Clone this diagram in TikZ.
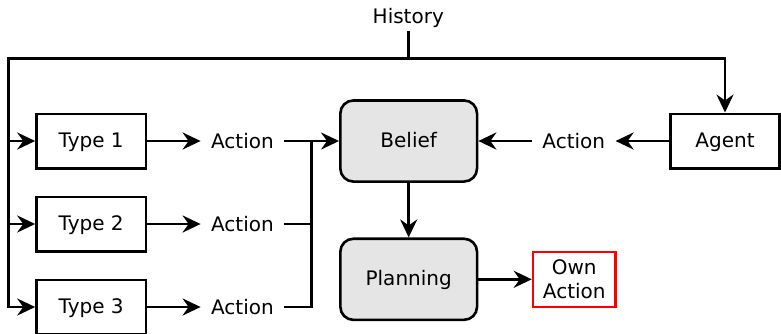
\documentclass[tikz,border=0pt]{standalone}
\usepackage{fontspec}
\setmainfont{DejaVu Sans}
\usetikzlibrary{positioning,arrows.meta}

\begin{document}
\begin{tikzpicture}[x=0.5pt, y=-0.5pt, line width=1.3pt,
    >={Stealth[length=9pt, width=8.5pt, inset=3pt]},
    typebox/.style={draw, minimum width=54.7pt, minimum height=27.2pt, text height=7.5pt, text depth=1.5pt},
    roundbox/.style={draw, fill=gray!20, rounded corners=6.5pt, minimum width=68.35pt, minimum height=40.55pt, text height=7.5pt, text depth=1.5pt},
    act/.style={inner xsep=4.6pt}]
    \useasboundingbox (0,0) rectangle (781,333);

    \node [anchor=base, inner ysep=1pt] (hist) at (408.3,23.3) {History};
    \coordinate (split) at (408.3,58.3);
    \coordinate (corner) at (8.3,58.3);

    \node [typebox] (t1) at (91.2,141) {Type 1};
    \node [typebox, below=13pt of t1] (t2) {Type 2};
    \node [typebox, below=13pt of t2] (t3) {Type 3};
    \node [act, right=26.7pt of t1] (a1) {Action};
    \node [act, right=26.7pt of t2] (a2) {Action};
    \node [act, right=26.7pt of t3] (a3) {Action};
    \coordinate [right=13.65pt of a1.east] (merge);

    \node [roundbox] (belief) at (408.7,141) {Belief};
    \node [roundbox, below=27.3pt of belief] (plan) {Planning};
    \node [typebox] (agent) at (725,141) {Agent};
    \node [act, left=26.7pt of agent] (a4) {Action};
    \node [draw=red, align=center, inner ysep=2pt, minimum width=41.2pt, minimum height=27.5pt, right=26.7pt of plan] (own) {Own\\Action};

    \draw (hist) -- (split);
    \draw [->] (split) -| (agent);
    \draw [->] (split) -- (corner) |- (t3);
    \draw [->] (corner |- t1) -- (t1);
    \draw [->] (corner |- t2) -- (t2);
    \draw [->] (t1) -- (a1);
    \draw [->] (t2) -- (a2);
    \draw [->] (t3) -- (a3);
    \draw [->] (a1) -- (belief);
    \draw (a2) -| (merge);
    \draw (a3) -| (merge);
    \draw [->] (agent) -- (a4);
    \draw [->] (a4) -- (belief);
    \draw [->] (belief) -- (plan);
    \draw [->] (plan) -- (own);
\end{tikzpicture}
\end{document}
